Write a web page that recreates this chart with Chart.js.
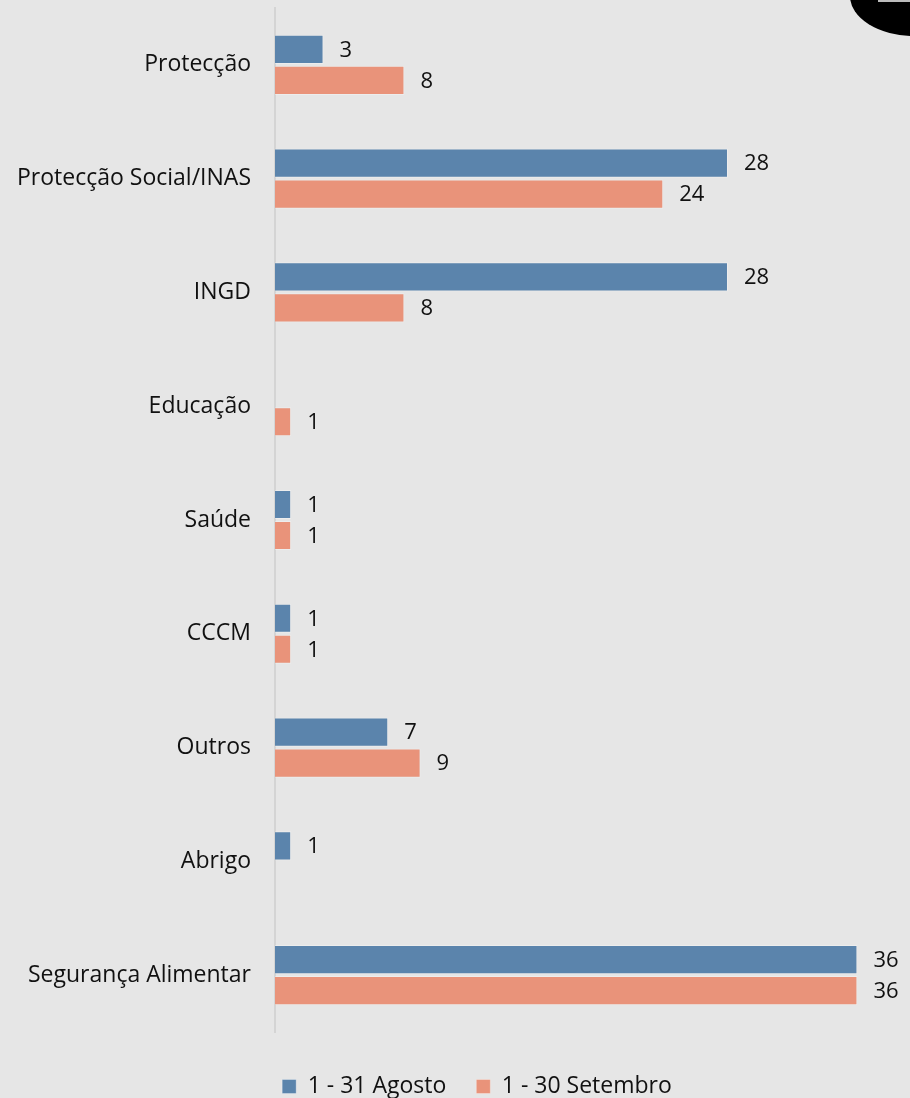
<!DOCTYPE html>
<html>
<head>
<meta charset="utf-8">
<script src="https://cdn.jsdelivr.net/npm/chart.js@4"></script>
<style>
  html, body { margin: 0; padding: 0; background: #e6e6e6; }
  #wrap { width: 910px; height: 1098px; position: relative; }
</style>
</head>
<body>
<div id="wrap"><canvas id="chart" width="910" height="1098"></canvas></div>
<script>
/* ── Data ─────────────────────────────────────── */
const categories = [
  'Protecção', 'Protecção Social/INAS', 'INGD', 'Educação', 'Saúde',
  'CCCM', 'Outros', 'Abrigo', 'Segurança Alimentar'
];
const seriesNames = ['1 - 31 Agosto', '1 - 30 Setembro'];
const agosto   = [3, 28, 28, null, 1, 1, 7, 1, 36];
const setembro = [8, 24, 8, 1, 1, 1, 9, null, 36];

/* ── Colours / font ───────────────────────────── */
const C_BLUE   = '#5b84ac';
const C_ORANGE = '#e9937a';
const C_TEXT   = '#111111';
const FONT     = "'Open Sans', sans-serif";

/* value labels at bar end */
const valueLabels = {
  id: 'valueLabels',
  afterDatasetsDraw(chart) {
    const { ctx } = chart;
    ctx.save();
    ctx.font = '22px ' + FONT;
    ctx.fillStyle = C_TEXT;
    ctx.textAlign = 'left';
    ctx.textBaseline = 'middle';
    chart.data.datasets.forEach((ds, di) => {
      chart.getDatasetMeta(di).data.forEach((bar, i) => {
        if (ds.data[i] == null) return;
        ctx.fillText(ds.data[i], bar.x + 16, bar.y + 1);
      });
    });
    ctx.restore();
  },
};

/* legend sits centred under the plot, a bit right of the page centre */
const shiftLegend = {
  id: 'shiftLegend',
  afterLayout(chart) {
    if (!chart.legend) return;
    chart.legend.left += 22;
    chart.legend.right += 22;
  },
};

/* cropped logo in the top-right corner */
const cornerLogo = {
  id: 'cornerLogo',
  afterDraw(chart) {
    const { ctx } = chart;
    ctx.save();
    ctx.fillStyle = '#000';
    ctx.beginPath();
    ctx.ellipse(914, -4, 64, 40, 0, 0, Math.PI * 2);
    ctx.fill();
    ctx.fillStyle = '#bbbbbb';
    ctx.fillRect(878, 0, 32, 2);
    ctx.restore();
  },
};

new Chart(document.getElementById('chart'), {
  type: 'bar',
  data: {
    labels: categories,
    datasets: [
      {
        label: seriesNames[0],
        data: agosto,
        backgroundColor: C_BLUE,
        borderColor: 'rgba(255,255,255,0.3)',
        borderWidth: 1,
        categoryPercentage: 0.545,
        barPercentage: 0.94,
      },
      {
        label: seriesNames[1],
        data: setembro,
        backgroundColor: C_ORANGE,
        borderColor: 'rgba(255,255,255,0.3)',
        borderWidth: 1,
        categoryPercentage: 0.545,
        barPercentage: 0.94,
      },
    ],
  },
  options: {
    indexAxis: 'y',
    responsive: false,
    animation: false,
    layout: { padding: { left: 0, top: 8, right: 0, bottom: -10 } },
    plugins: {
      legend: {
        position: 'bottom',
        labels: {
          color: C_TEXT,
          font: { family: FONT, size: 23 },
          boxWidth: 14,
          boxHeight: 14,
          padding: 30,
          useBorderRadius: false,
        },
      },
      tooltip: { enabled: false },
    },
    scales: {
      x: {
        min: 0,
        max: 39.25,
        display: true,
        ticks: { display: false },
        grid: { display: false },
        border: { display: false },
        afterFit: s => { s.height = 13; s.paddingLeft = 0; s.paddingRight = 0; },
      },
      y: {
        ticks: { color: C_TEXT, font: { family: FONT, size: 23 }, padding: 24 },
        grid: { display: false, drawTicks: false },
        border: { display: true, color: '#d4d4d4', width: 2 },
        afterFit: s => { s.width = 275; s.paddingTop = 0; s.paddingBottom = 0; },
      },
    },
  },
  plugins: [valueLabels, shiftLegend, cornerLogo],
});
</script>
</body>
</html>
